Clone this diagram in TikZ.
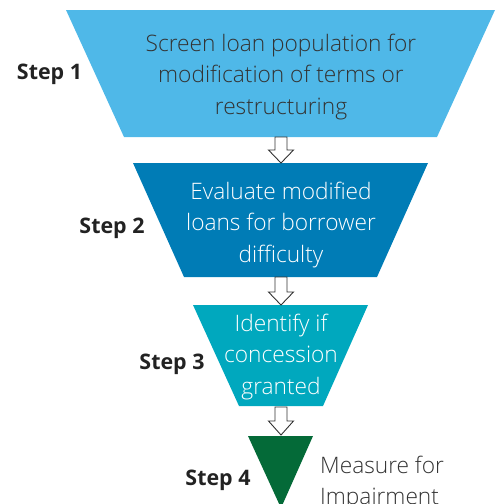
\documentclass[tikz,border=0pt]{standalone}
\usepackage{fontspec}
\setmainfont{Open Sans}
\newfontfamily\lightfont{Open Sans Light}
\definecolor{cone}{RGB}{79,184,232}
\definecolor{ctwo}{RGB}{0,124,182}
\definecolor{cthree}{RGB}{0,168,190}
\definecolor{cfour}{RGB}{4,106,56}
\definecolor{txtdark}{RGB}{51,51,51}
\definecolor{stepcol}{RGB}{34,34,34}
\begin{document}
\begin{tikzpicture}[x=1pt,y=-1pt,
  downarrow/.style={fill=white,draw=txtdark,line width=0.9pt,line join=miter},
  steplabel/.style={font=\fontsize{21.4}{31.5}\selectfont\bfseries,text=stepcol,inner sep=0pt,anchor=base},
  boxtext/.style={font=\lightfont\fontsize{22.7}{31.5}\selectfont,align=center,inner sep=0pt,anchor=center}
]
\useasboundingbox (0,0) rectangle (501,504);
% funnel stages
\fill[cone] (66,10) -- (495,10) -- (437,137) -- (124,137) -- cycle;
\fill[ctwo] (133,163) -- (428,163) -- (377,277) -- (184,277) -- cycle;
\fill[cthree] (193,305) -- (368,305) -- (323,406) -- (239,406) -- cycle;
\fill[cfour] (248,436) -- (313,436) -- (281,508) -- cycle;
% arrows
\draw[downarrow] (275,137) -- (287,137) -- (287,150) -- (293.5,150) -- (281,163) -- (268.5,150) -- (275,150) -- cycle;
\draw[downarrow] (275,277) -- (287,277) -- (287,292) -- (293.5,292) -- (281,305) -- (268.5,292) -- (275,292) -- cycle;
\draw[downarrow] (275,407) -- (287,407) -- (287,421) -- (293.5,421) -- (281,435) -- (268.5,421) -- (275,421) -- cycle;
% texts
\node[boxtext,text=txtdark] (t1) at (281,77) {Screen loan population for\\modification of terms or\\restructuring};
\node[boxtext,text=white] (t2) at (281,225) {Evaluate modified\\loans for borrower\\difficulty};
\node[boxtext,text=white] (t3) at (281,357) {Identify if\\concession\\granted};
\node[boxtext,align=left,anchor=west,text=txtdark] (t4) at (320,483) {Measure for\\Impairment};
% step labels
\node[steplabel] (s1) at (49.5,79) {Step 1};
\node[steplabel] (s2) at (112,233) {Step 2};
\node[steplabel] (s3) at (172,369) {Step 3};
\node[steplabel] (s4) at (218,485) {Step 4};
\end{tikzpicture}
\end{document}
